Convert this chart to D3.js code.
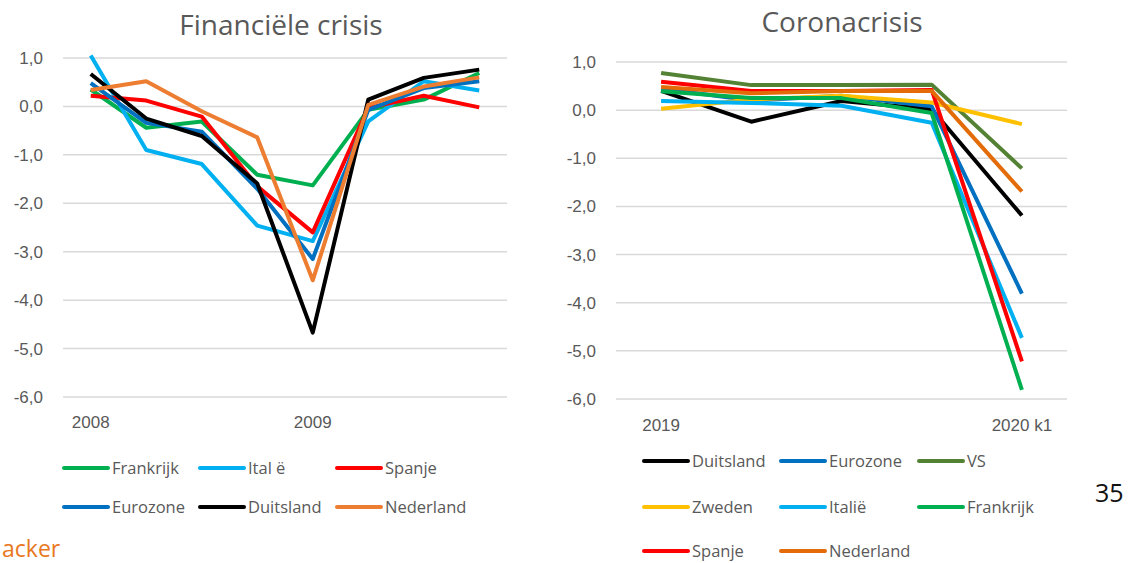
<!DOCTYPE html>
<html>
<head>
<meta charset="utf-8">
<script src="https://cdn.jsdelivr.net/npm/d3@7"></script>
<style>
  body { margin: 0; background: #fff; }
  svg { display: block; font-family: "Open Sans", "Liberation Sans", sans-serif; }
</style>
</head>
<body>
<svg id="chart" width="1128" height="563"></svg>
<script>
// financiele crisis, kwartaalgroei bbp (%)
var leftQuarters = ["2008 k1", "2008 k2", "2008 k3", "2008 k4", "2009 k1", "2009 k2", "2009 k3", "2009 k4"];
var leftTickLabels = ["2008", "", "", "", "2009", "", "", ""];
var leftNames = ["Frankrijk", "Ital ë", "Spanje", "Eurozone", "Duitsland", "Nederland"];
var leftFrankrijk = [0.35, -0.44, -0.31, -1.41, -1.63, -0.07, 0.14, 0.69];
var leftItalie    = [1.05, -0.90, -1.19, -2.46, -2.78, -0.31, 0.52, 0.33];
var leftSpanje    = [0.22, 0.12, -0.21, -1.65, -2.60, -0.03, 0.22, -0.02];
var leftEurozone  = [0.48, -0.34, -0.52, -1.70, -3.15, -0.07, 0.38, 0.52];
var leftDuitsland = [0.67, -0.25, -0.61, -1.59, -4.67, 0.14, 0.59, 0.76];
var leftNederland = [0.34, 0.52, -0.10, -0.64, -3.59, 0.03, 0.41, 0.60];

// coronacrisis
var rightQuarters = ["2019 k1", "2019 k2", "2019 k3", "2019 k4", "2020 k1"];
var rightTickLabels = ["2019", "", "", "", "2020 k1"];
var rightNames = ["Duitsland", "Eurozone", "VS", "Zweden", "Italië", "Frankrijk", "Spanje", "Nederland"];
var rightDuitsland = [0.40, -0.24, 0.19, 0.02, -2.19];
var rightEurozone  = [0.45, 0.20, 0.30, 0.08, -3.81];
var rightVS        = [0.77, 0.52, 0.52, 0.53, -1.21];
var rightZweden    = [0.03, 0.22, 0.30, 0.16, -0.29];
var rightItalie    = [0.19, 0.15, 0.09, -0.26, -4.73];
var rightFrankrijk = [0.39, 0.25, 0.25, -0.06, -5.81];
var rightSpanje    = [0.59, 0.40, 0.40, 0.42, -5.22];
var rightNederland = [0.48, 0.35, 0.40, 0.40, -1.69];

var yTicks = [1, 0, -1, -2, -3, -4, -5, -6];

var svg = d3.select("#chart");
var textColor = "#595959";
// komma als decimaalteken, gewoon streepje als minteken
var fmt = function(d) { return d3.format(".1f")(d).replace(".", ",").replace("\u2212", "-"); };

function drawPanel(opts) {
  var x = d3.scaleBand().domain(opts.quarters).range([opts.x0, opts.x1]);
  var y = d3.scaleLinear().domain([-6, 1]).range([opts.yBottom, opts.yTop]);
  var g = svg.append("g");

  // gridlines
  g.selectAll(".grid").data(yTicks).enter().append("line")
    .attr("x1", opts.x0).attr("x2", opts.x1)
    .attr("y1", function(d) { return y(d); })
    .attr("y2", function(d) { return y(d); })
    .style("stroke", "#d9d9d9")
    .style("stroke-width", 1.5);

  // y labels
  var yAxis = d3.axisLeft(y).tickValues(yTicks).tickFormat(fmt).tickSize(0).tickPadding(0);
  var ya = g.append("g").attr("transform", "translate(" + opts.labelRight + ",0)").call(yAxis);
  ya.select(".domain").remove();
  ya.selectAll("text").style("font-size", "17px").style("fill", textColor);

  // x labels
  var xAxis = d3.axisBottom(x).tickSize(0).tickPadding(0)
    .tickFormat(function(d, i) { return opts.tickLabels[i]; });
  var xa = g.append("g").attr("transform", "translate(0," + opts.xLabelY + ")").call(xAxis);
  xa.select(".domain").remove();
  xa.selectAll("text").style("font-size", "17px").style("fill", textColor);

  var line = d3.line()
    .x(function(d, i) { return x(opts.quarters[i]) + x.bandwidth() / 2; })
    .y(function(d) { return y(d); });

  for (var i = 0; i < opts.series.length; i++) {
    g.append("path")
      .attr("d", line(opts.series[i]))
      .style("fill", "none")
      .style("stroke", opts.colors[i])
      .style("stroke-width", 4)
      .style("stroke-linejoin", "round");
  }

  // title
  svg.append("text")
    .attr("x", opts.titleX).attr("y", opts.titleY)
    .attr("text-anchor", "middle")
    .style("font-size", "28px")
    .style("fill", textColor)
    .text(opts.title);

  // legend
  for (var j = 0; j < opts.names.length; j++) {
    var lx = opts.legendCols[j % opts.legendCols.length];
    var ly = opts.legendRows[Math.floor(j / opts.legendCols.length)];
    svg.append("line")
      .attr("x1", lx).attr("x2", lx + 44)
      .attr("y1", ly).attr("y2", ly)
      .style("stroke", opts.colors[j])
      .style("stroke-width", 4)
      .style("stroke-linecap", "round");
    svg.append("text")
      .attr("x", lx + 48).attr("y", ly)
      .attr("dy", "0.35em")
      .style("font-size", "16.5px")
      .style("fill", textColor)
      .text(opts.names[j]);
  }
}

drawPanel({
  quarters: leftQuarters, tickLabels: leftTickLabels, names: leftNames,
  series: [leftFrankrijk, leftItalie, leftSpanje, leftEurozone, leftDuitsland, leftNederland],
  colors: ["#00b050", "#00b0f0", "#ff0000", "#0070c0", "#000000", "#ed7d31"],
  x0: 63, x1: 507, yTop: 58, yBottom: 397, labelRight: 43, xLabelY: 416,
  title: "Financiële crisis", titleX: 281, titleY: 35,
  legendCols: [64, 200, 337], legendRows: [468, 507]
});

drawPanel({
  quarters: rightQuarters, tickLabels: rightTickLabels, names: rightNames,
  series: [rightDuitsland, rightEurozone, rightVS, rightZweden, rightItalie, rightFrankrijk, rightSpanje, rightNederland],
  colors: ["#000000", "#0070c0", "#548235", "#ffc000", "#00b0f0", "#00b050", "#ff0000", "#e36c09"],
  x0: 616, x1: 1067, yTop: 62, yBottom: 399, labelRight: 596, xLabelY: 419,
  title: "Coronacrisis", titleX: 842, titleY: 32,
  legendCols: [644, 781, 919], legendRows: [461, 507, 551]
});

// page number and footer text
svg.append("text").attr("x", 1095).attr("y", 502)
  .style("font-size", "25px").style("fill", "#111").text("35");
svg.append("text").attr("x", 2).attr("y", 557)
  .style("font-size", "23px").style("fill", "#e87722").text("acker");
</script>
</body>
</html>
